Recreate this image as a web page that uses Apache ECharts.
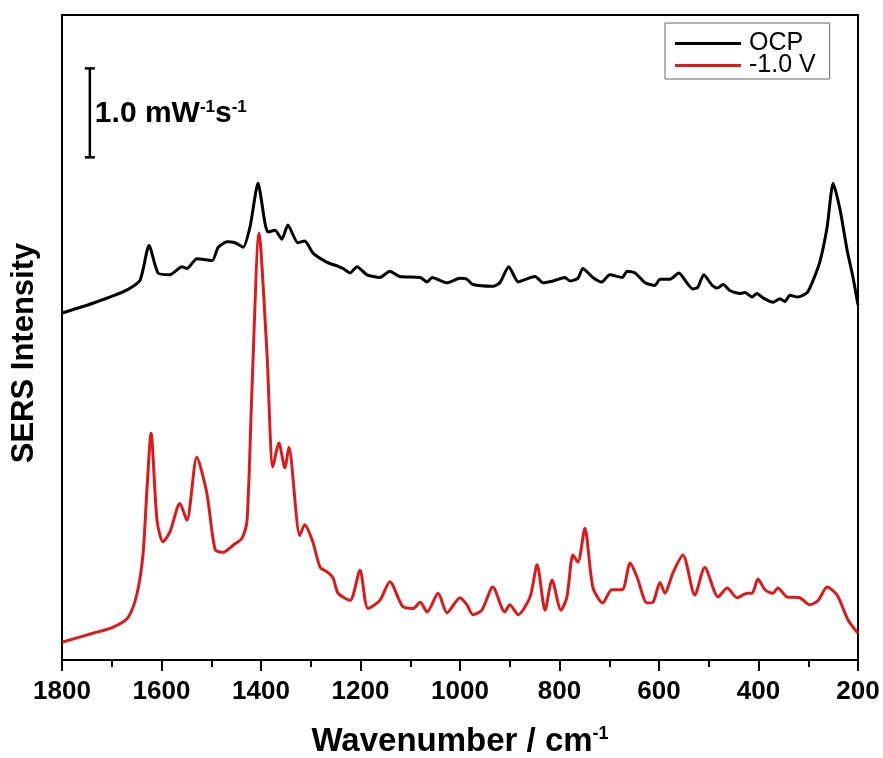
<!DOCTYPE html>
<html>
<head>
<meta charset="utf-8">
<script src="https://cdn.jsdelivr.net/npm/echarts@6/dist/echarts.min.js"></script>
<style>
html,body{margin:0;padding:0;background:#fff;}
#chart{width:883px;height:758px;}
</style>
</head>
<body>
<div id="chart"></div>
<script>
// Wavenumber (cm-1) and intensity (mW^-1 s^-1, offset arbitrary)
const ocpWavenumber = [1800,1738,1669,1643,1625,1607,1583,1559,1549,1529,1498,1486,1468,1452,1436,1422,1406,1392,1386,1372,1358,1346,1326,1312,1295,1267,1247,1235,1221,1207,1187,1161,1141,1121,1080,1066,1056,1026,1000,986,974,934,920,902,883,863,849,833,813,789,779,763,753,733,715,699,674,664,648,628,608,598,578,560,544,532,522,510,493,483,471,457,437,427,413,403,391,371,357,347,337,321,302,290,276,262,250,236,222,210,200];
const ocpIntensity = [3.90,4.01,4.16,4.27,4.66,4.35,4.33,4.42,4.40,4.51,4.49,4.64,4.70,4.69,4.64,4.87,5.36,4.91,4.81,4.83,4.73,4.89,4.69,4.71,4.57,4.47,4.43,4.40,4.35,4.42,4.33,4.30,4.37,4.31,4.30,4.25,4.30,4.24,4.29,4.28,4.22,4.20,4.24,4.42,4.25,4.29,4.31,4.24,4.26,4.30,4.26,4.29,4.40,4.30,4.25,4.33,4.30,4.37,4.35,4.24,4.21,4.28,4.28,4.35,4.24,4.17,4.19,4.33,4.21,4.18,4.22,4.15,4.12,4.13,4.08,4.12,4.07,4.02,4.06,4.03,4.10,4.08,4.13,4.27,4.49,4.87,5.36,5.06,4.61,4.30,3.99];

const negWavenumber = [1800,1738,1697,1667,1649,1637,1629,1621,1609,1597,1583,1563,1549,1529,1509,1492,1476,1456,1438,1428,1418,1404,1388,1376,1364,1352,1344,1322,1312,1296,1281,1267,1255,1245,1221,1201,1185,1161,1141,1115,1094,1080,1066,1044,1026,1000,986,974,956,934,910,900,883,859,845,829,815,797,785,773,763,749,733,713,695,674,658,644,624,612,598,588,572,552,528,508,481,463,443,423,413,401,387,371,361,343,317,297,280,262,242,220,200];
const negIntensity = [0.20,0.30,0.37,0.48,0.75,1.20,1.94,2.55,1.57,1.33,1.44,1.76,1.57,2.28,1.88,1.24,1.21,1.29,1.37,1.57,3.07,4.80,3.45,2.17,2.44,2.16,2.39,1.40,1.52,1.33,1.04,0.99,0.92,0.75,0.67,1.01,0.58,0.67,0.88,0.60,0.58,0.65,0.54,0.75,0.53,0.70,0.62,0.51,0.56,0.82,0.54,0.62,0.51,0.71,1.07,0.56,0.90,0.56,0.71,1.18,1.10,1.48,0.82,0.64,0.79,0.79,1.09,0.93,0.64,0.65,0.87,0.75,0.98,1.18,0.73,1.04,0.71,0.81,0.70,0.75,0.75,0.91,0.79,0.75,0.81,0.71,0.70,0.62,0.67,0.82,0.73,0.45,0.30];

const xTicks = [1800,1600,1400,1200,1000,800,600,400,200];
const seriesNames = ['OCP','-1.0 V'];
// scale bar: position (wavenumber), lower/upper intensity (length = 1.0 mW^-1 s^-1)
const scaleBarX = [1744];
const scaleBarY = [5.65, 6.65];

const FONT = "'Liberation Sans', Arial, Helvetica, sans-serif";
const chart = echarts.init(document.getElementById('chart'));

function zip(a,b){return a.map((v,i)=>[v,b[i]]);}

chart.setOption({
  backgroundColor:'#fff',
  animation:false,
  grid:{left:62,right:25,top:15,bottom:98,containLabel:false,outerBoundsMode:'none',
    show:true,borderColor:'#000',borderWidth:2,backgroundColor:'transparent'},
  legend:{
    orient:'vertical',left:665,top:23,
    data:seriesNames,
    icon:'rect',itemWidth:66,itemHeight:3,itemGap:-3,
    borderColor:'#666',borderWidth:1,padding:[8,14,1,10],
    textStyle:{fontFamily:FONT,fontSize:25,color:'#000',padding:[0,0,0,3]}
  },
  xAxis:{
    type:'value',inverse:true,min:200,max:1800,interval:200,
    axisLine:{lineStyle:{color:'#000',width:2}},
    axisTick:{show:true,length:11,lineStyle:{color:'#000',width:2}},
    minorTick:{show:true,splitNumber:2,length:7,lineStyle:{color:'#000',width:2}},
    splitLine:{show:false},
    axisLabel:{margin:19,fontFamily:FONT,fontSize:26,fontWeight:'bold',color:'#000',
      formatter:v=>xTicks.includes(v)?String(v):''},
    name:'Wavenumber / cm{sup|-1}',nameLocation:'middle',nameGap:65,
    nameTextStyle:{fontFamily:FONT,fontSize:33,fontWeight:'bold',color:'#000',
      rich:{sup:{fontFamily:FONT,fontSize:18,fontWeight:'bold',color:'#000',verticalAlign:'top',padding:[0,0,15,0]}}}
  },
  yAxis:{
    type:'value',min:0,max:7.25,
    axisLine:{show:true,lineStyle:{color:'#000',width:2}},
    axisTick:{show:false},axisLabel:{show:false},splitLine:{show:false}
  },
  graphic:[{
    type:'text',rotation:Math.PI/2,x:24,y:353,
    style:{text:'SERS Intensity',fontFamily:FONT,fontSize:31,fontWeight:'bold',fill:'#000',align:'center',verticalAlign:'middle'}
  }],
  series:[
    {name:seriesNames[0],type:'line',data:zip(ocpWavenumber,ocpIntensity),showSymbol:false,smooth:0.2,
      lineStyle:{color:'#000',width:3},itemStyle:{color:'#000'},z:3},
    {name:seriesNames[1],type:'line',data:zip(negWavenumber,negIntensity),showSymbol:false,smooth:0.25,
      lineStyle:{color:'#dd1a1a',width:3},itemStyle:{color:'#dd1a1a'},z:2},
    {type:'custom',name:'scalebar',silent:true,
      data:[[scaleBarX[0],scaleBarY[0],scaleBarY[1]]],
      renderItem:function(params,api){
        const p0=api.coord([api.value(0),api.value(1)]);
        const p1=api.coord([api.value(0),api.value(2)]);
        const cap=5;
        return {type:'group',children:[
          {type:'line',shape:{x1:p0[0],y1:p0[1],x2:p1[0],y2:p1[1]},style:{stroke:'#000',lineWidth:2.5}},
          {type:'line',shape:{x1:p0[0]-cap,y1:p0[1],x2:p0[0]+cap,y2:p0[1]},style:{stroke:'#000',lineWidth:2.5}},
          {type:'line',shape:{x1:p1[0]-cap,y1:p1[1],x2:p1[0]+cap,y2:p1[1]},style:{stroke:'#000',lineWidth:2.5}},
          {type:'text',x:p0[0]+5,y:(p0[1]+p1[1])/2+1,style:{
            text:'1.0 mW{sup|-1}s{sup|-1}',fontFamily:FONT,fontSize:30,fontWeight:'bold',fill:'#000',verticalAlign:'middle',
            rich:{sup:{fontFamily:FONT,fontSize:17,fontWeight:'bold',fill:'#000',verticalAlign:'top',padding:[0,0,14,0]}}}}
        ]};
      }}
  ]
});
</script>
</body>
</html>
